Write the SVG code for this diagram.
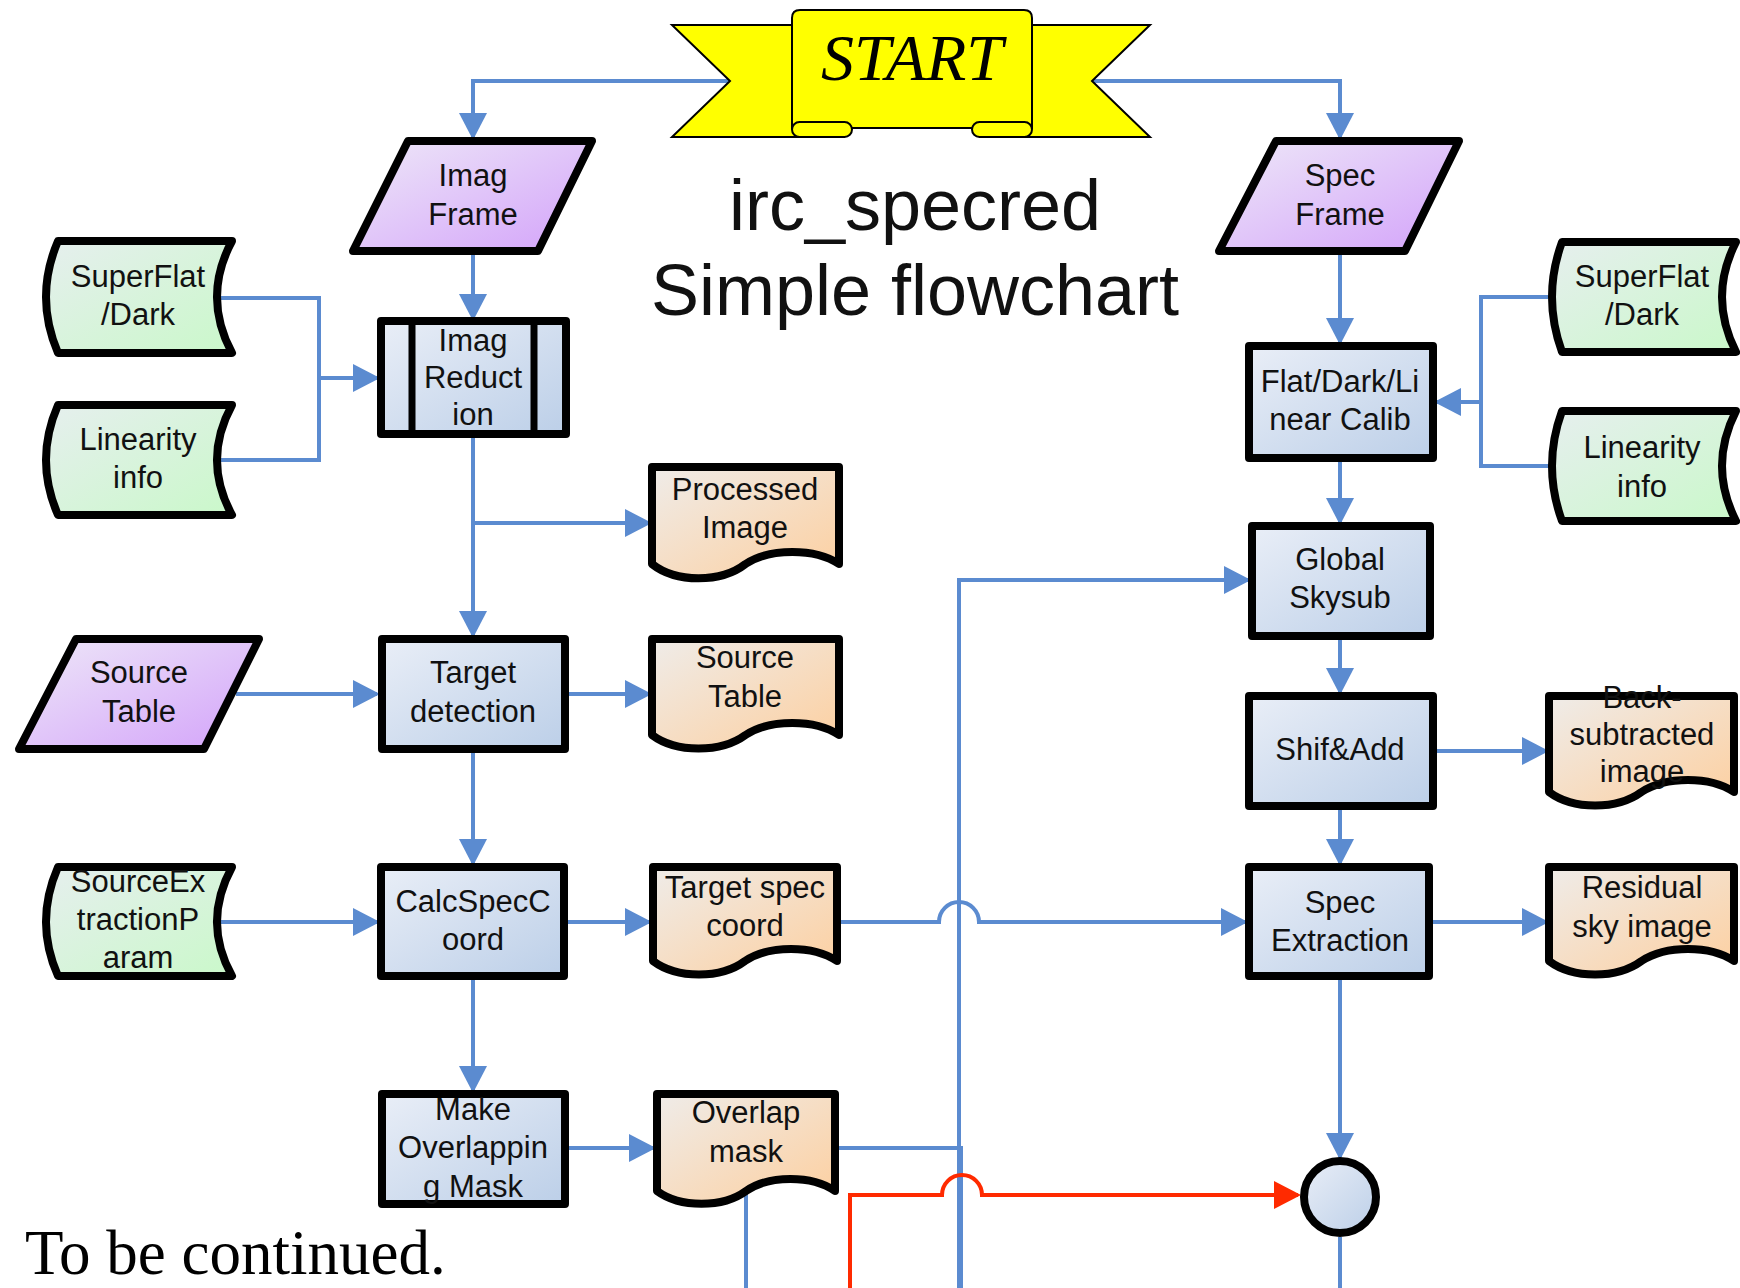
<svg xmlns="http://www.w3.org/2000/svg" width="1740" height="1288" viewBox="0 0 1740 1288">
<defs>
<style>
.n{stroke:#000;stroke-width:8;stroke-linejoin:round}
.proc{fill:url(#gProc)}
.io{fill:url(#gIo)}
.sd{fill:url(#gSd)}
.doc{fill:url(#gDoc)}
.t{font-family:"Liberation Sans",Arial,sans-serif;font-size:31px;fill:#111;text-anchor:middle}
.c{fill:none;stroke:#5b8bd0;stroke-width:4}
.ca{fill:none;stroke:#5b8bd0;stroke-width:4;marker-end:url(#ab)}
.r{fill:none;stroke:#ff2a00;stroke-width:4;marker-end:url(#ar)}
</style>
<linearGradient id="gProc" x1="0" y1="0" x2="1" y2="1"><stop offset="0" stop-color="#e9eef7"/><stop offset="1" stop-color="#bccfe8"/></linearGradient>
<linearGradient id="gIo" x1="0" y1="0" x2="1" y2="1"><stop offset="0" stop-color="#eee8f8"/><stop offset="1" stop-color="#d3a2fa"/></linearGradient>
<linearGradient id="gSd" x1="0" y1="0" x2="1" y2="1"><stop offset="0" stop-color="#e6efee"/><stop offset="1" stop-color="#caf8ca"/></linearGradient>
<linearGradient id="gDoc" x1="0" y1="0" x2="1" y2="1"><stop offset="0" stop-color="#efece9"/><stop offset="1" stop-color="#fdcf9f"/></linearGradient>
<marker id="ab" markerUnits="userSpaceOnUse" viewBox="0 0 28 28" markerWidth="28" markerHeight="28" refX="24" refY="14" orient="auto"><path d="M0,0 L27,14 L0,28 z" fill="#5b8bd0"/></marker>
<marker id="ar" markerUnits="userSpaceOnUse" viewBox="0 0 28 28" markerWidth="28" markerHeight="28" refX="24" refY="14" orient="auto"><path d="M0,0 L27,14 L0,28 z" fill="#ff2a00"/></marker>
</defs>
<rect width="1740" height="1288" fill="#fff"/>

<g id="connectors">
<path class="ca" d="M730,81 H473 V137"/>
<path class="ca" d="M1092,81 H1340 V137"/>
<path class="ca" d="M473,255 V318"/>
<path class="c" d="M219,298 H319 V460 H219"/>
<path class="ca" d="M319,378 H377"/>
<path class="ca" d="M473,437 V635"/>
<path class="ca" d="M473,523 H649"/>
<path class="ca" d="M236,694 H377"/>
<path class="ca" d="M569,694 H649"/>
<path class="ca" d="M473,753 V863"/>
<path class="ca" d="M219,922 H377"/>
<path class="ca" d="M568,922 H649"/>
<path class="ca" d="M473,980 V1090"/>
<path class="ca" d="M569,1148 H653"/>
<path class="ca" d="M841,922 H939 A20,20 0 0 1 979,922 H1245"/>
<path class="ca" d="M959,1288 V580 H1248"/>
<path class="c" d="M839,1148 H961 V1288"/>
<path class="c" d="M746,1192 V1288"/>
<path class="ca" d="M1340,255 V342"/>
<path class="c" d="M1548,297 H1481 V466 H1550"/>
<path class="ca" d="M1481,402 H1437"/>
<path class="ca" d="M1340,462 V522"/>
<path class="ca" d="M1340,640 V692"/>
<path class="ca" d="M1437,751 H1546"/>
<path class="ca" d="M1340,810 V863"/>
<path class="ca" d="M1432,922 H1546"/>
<path class="ca" d="M1340,980 V1157"/>
<path class="c" d="M1340,1237 V1288"/>
<path class="r" d="M850,1288 V1195 H942 A20,20 0 0 1 982,1195 H1298"/>
</g>

<g id="start">
<polygon points="672,25 800,25 800,137 672,137 730,81" fill="#ffff00" stroke="#000" stroke-width="2" stroke-linejoin="miter"/>
<polygon points="1150,25 1024,25 1024,137 1150,137 1092,81" fill="#ffff00" stroke="#000" stroke-width="2" stroke-linejoin="miter"/>
<path d="M792,18 Q792,10 800,10 H1024 Q1032,10 1032,18 V128 H792 Z" fill="#ffff00" stroke="#000" stroke-width="2"/>
<rect x="792" y="122" width="60" height="15" rx="7.5" fill="#ffff00" stroke="#000" stroke-width="2"/>
<rect x="972" y="122" width="60" height="15" rx="7.5" fill="#ffff00" stroke="#000" stroke-width="2"/>
<text x="912" y="80" font-family="'Liberation Serif','Times New Roman',serif" font-style="italic" font-size="66" text-anchor="middle" fill="#000">START</text>
</g>

<g id="title">
<text x="915" y="230" font-family="'Liberation Sans',Arial,sans-serif" font-size="72" text-anchor="middle" fill="#111">irc_specred</text>
<text x="915" y="315" font-family="'Liberation Sans',Arial,sans-serif" font-size="72" text-anchor="middle" fill="#111">Simple flowchart</text>
</g>

<g id="imag-frame">
<polygon class="n io" points="408,141 592,141 538,251 353,251"/>
<text class="t" x="473" y="186">Imag</text><text class="t" x="473" y="225">Frame</text>
</g>
<g id="spec-frame">
<polygon class="n io" points="1276,141 1459,141 1405,251 1219,251"/>
<text class="t" x="1340" y="186">Spec</text><text class="t" x="1340" y="225">Frame</text>
</g>

<g id="superflat-left">
<path class="n sd" d="M58,241 H232 Q202,297 232,353 H58 Q34,297 58,241 Z"/>
<text class="t" x="138" y="287">SuperFlat</text><text class="t" x="138" y="325">/Dark</text>
</g>
<g id="linearity-left">
<path class="n sd" d="M58,405 H232 Q202,460 232,515 H58 Q34,460 58,405 Z"/>
<text class="t" x="138" y="450">Linearity</text><text class="t" x="138" y="488">info</text>
</g>
<g id="sourceex">
<path class="n sd" d="M58,867 H232 Q202,922 232,976 H58 Q34,922 58,867 Z"/>
<text class="t" x="138" y="892">SourceEx</text><text class="t" x="138" y="930">tractionP</text><text class="t" x="138" y="968">aram</text>
</g>
<g id="superflat-right">
<path class="n sd" d="M1562,242 H1736 Q1708,297 1736,352 H1562 Q1542,297 1562,242 Z"/>
<text class="t" x="1642" y="287">SuperFlat</text><text class="t" x="1642" y="325">/Dark</text>
</g>
<g id="linearity-right">
<path class="n sd" d="M1562,411 H1736 Q1708,466 1736,521 H1562 Q1542,466 1562,411 Z"/>
<text class="t" x="1642" y="458">Linearity</text><text class="t" x="1642" y="497">info</text>
</g>

<g id="imag-reduction">
<rect class="n proc" x="381" y="321" width="185" height="113"/>
<line x1="412" y1="321" x2="412" y2="434" stroke="#000" stroke-width="7"/>
<line x1="534" y1="321" x2="534" y2="434" stroke="#000" stroke-width="7"/>
<text class="t" x="473" y="351">Imag</text><text class="t" x="473" y="388">Reduct</text><text class="t" x="473" y="425">ion</text>
</g>
<g id="processed-image">
<path class="n doc" d="M652,467 H839 V564 C815,548 770,548 745.5,564 C721,583 676,583 652,564 Z"/>
<text class="t" x="745" y="500">Processed</text><text class="t" x="745" y="538">Image</text>
</g>
<g id="source-table-in">
<polygon class="n io" points="76,639 259,639 204,749 19,749"/>
<text class="t" x="139" y="683">Source</text><text class="t" x="139" y="722">Table</text>
</g>
<g id="target-detection">
<rect class="n proc" x="382" y="639" width="183" height="110"/>
<text class="t" x="473" y="683">Target</text><text class="t" x="473" y="722">detection</text>
</g>
<g id="source-table-out">
<path class="n doc" d="M652,639 H839 V735 C815,719 770,719 745.5,735 C721,753 676,753 652,735 Z"/>
<text class="t" x="745" y="668">Source</text><text class="t" x="745" y="707">Table</text>
</g>
<g id="calcspeccoord">
<rect class="n proc" x="381" y="867" width="183" height="109"/>
<text class="t" x="473" y="912">CalcSpecC</text><text class="t" x="473" y="950">oord</text>
</g>
<g id="target-spec-coord">
<path class="n doc" d="M653,867 H837 V961 C813,945 769,945 745,961 C721,979 677,979 653,961 Z"/>
<text class="t" x="745" y="898">Target spec</text><text class="t" x="745" y="936">coord</text>
</g>
<g id="make-overlapping-mask">
<rect class="n proc" x="382" y="1094" width="183" height="110"/>
<text class="t" x="473" y="1120">Make</text><text class="t" x="473" y="1158">Overlappin</text><text class="t" x="473" y="1197">g Mask</text>
</g>
<g id="overlap-mask">
<path class="n doc" d="M657,1094 H835 V1191 C812,1175 769,1175 746,1191 C723,1208 680,1208 657,1191 Z"/>
<text class="t" x="746" y="1123">Overlap</text><text class="t" x="746" y="1162">mask</text>
</g>

<g id="flat-dark-linear-calib">
<rect class="n proc" x="1249" y="346" width="184" height="112"/>
<text class="t" x="1340" y="392">Flat/Dark/Li</text><text class="t" x="1340" y="430">near Calib</text>
</g>
<g id="global-skysub">
<rect class="n proc" x="1252" y="526" width="178" height="110"/>
<text class="t" x="1340" y="570">Global</text><text class="t" x="1340" y="608">Skysub</text>
</g>
<g id="shif-add">
<rect class="n proc" x="1249" y="696" width="184" height="110"/>
<text class="t" x="1340" y="760">Shif&amp;Add</text>
</g>
<g id="back-subtracted">
<path class="n doc" d="M1549,696 H1734 V792 C1710,776 1666,776 1641.5,792 C1617,810 1573,810 1549,792 Z"/>
<text class="t" x="1642" y="708">Back-</text><text class="t" x="1642" y="745">subtracted</text><text class="t" x="1642" y="782">image</text>
</g>
<g id="spec-extraction">
<rect class="n proc" x="1249" y="867" width="180" height="109"/>
<text class="t" x="1340" y="913">Spec</text><text class="t" x="1340" y="951">Extraction</text>
</g>
<g id="residual-sky">
<path class="n doc" d="M1549,867 H1734 V961 C1710,945 1666,945 1641.5,961 C1617,979 1573,979 1549,961 Z"/>
<text class="t" x="1642" y="898">Residual</text><text class="t" x="1642" y="937">sky image</text>
</g>
<g id="connector-circle">
<circle class="n proc" cx="1340" cy="1197" r="36"/>
</g>

<text x="25" y="1274" font-family="'Liberation Serif','Times New Roman',serif" font-size="63" fill="#000">To be continued.</text>
</svg>
